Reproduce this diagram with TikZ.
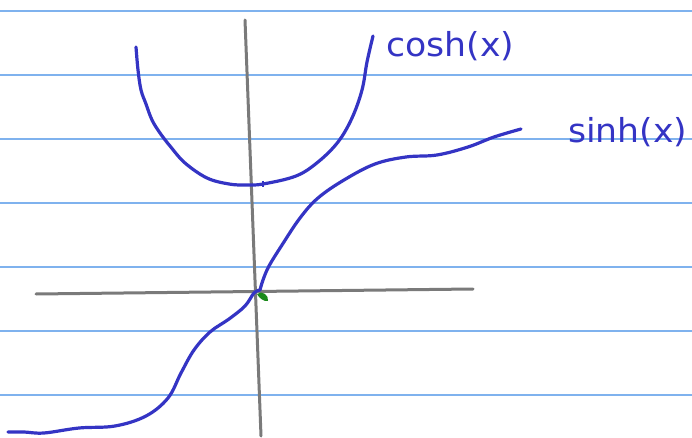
\documentclass[tikz,border=0pt]{standalone}
\usepackage{fontspec}
\newfontfamily\handfont{DejaVu Sans}
\definecolor{ruleblue}{HTML}{7FB2EE}
\definecolor{penblue}{HTML}{3434C4}
\definecolor{axisgray}{HTML}{7A7A7A}
\definecolor{markgreen}{HTML}{1A8A1A}
\begin{document}
\begin{tikzpicture}[x=1pt,y=-1pt,
  ruled/.style={ruleblue,line width=1.1pt},
  axisline/.style={axisgray,line width=3pt,line cap=round},
  pen/.style={penblue,line width=3.2pt,line cap=round,line join=round},
  handlabel/.style={penblue,font=\handfont\fontsize{33}{36}\selectfont,inner sep=0pt,anchor=west,xscale=1.05}]
\useasboundingbox (0,0) rectangle (692,438);
\fill[white] (0,0) rectangle (692,438);
% ruled lines
\foreach \yy in {11,75,139,203,267,331,395}
  \draw[ruled] (0,\yy) -- (692,\yy);
% axes
\coordinate (ytop) at (245,20);
\coordinate (ybot) at (261,436);
\coordinate (xl) at (36,294);
\coordinate (xr) at (473,289);
\draw[axisline] (ytop) -- (ybot);
\draw[axisline] (xl) -- (xr);
% cosh curve
\draw[pen] plot[smooth,tension=0.6] coordinates {
  (136,47) (138,70) (141,90) (146,104) (152,120) (160,133) (170,146) (185,163)
  (207,178) (229,184) (246,185) (263,184) (296,176) (318,162) (338,142)
  (352,118) (362,90) (367,62) (373,36)};
\draw[penblue,line width=1.5pt] (263,181) -- (263,187);
% sinh curve
\draw[pen] plot[smooth,tension=0.6] coordinates {
  (8,432) (24,432) (44,433) (79,428) (115,426) (146,416) (168,398) (181,373)
  (194,350) (210,332) (229,319) (245,306) (254,293) (260,290)};
\draw[pen] plot[smooth,tension=0.6] coordinates {
  (260,290) (263,280) (269,266) (282,245) (300,218) (318,198) (344,180)
  (375,164) (406,157) (437,155) (468,147) (494,137) (521,129)};
% green mark at origin
\fill[markgreen] (257,294) .. controls (262,290) and (269,295) .. (268,301)
  .. controls (264,302) and (259,298) .. (257,294) -- cycle;
% labels
\node[handlabel] (coshlabel) at (386,46) {cosh(x)};
\node[handlabel] (sinhlabel) at (568,132) {sinh(x)};
\end{tikzpicture}
\end{document}
